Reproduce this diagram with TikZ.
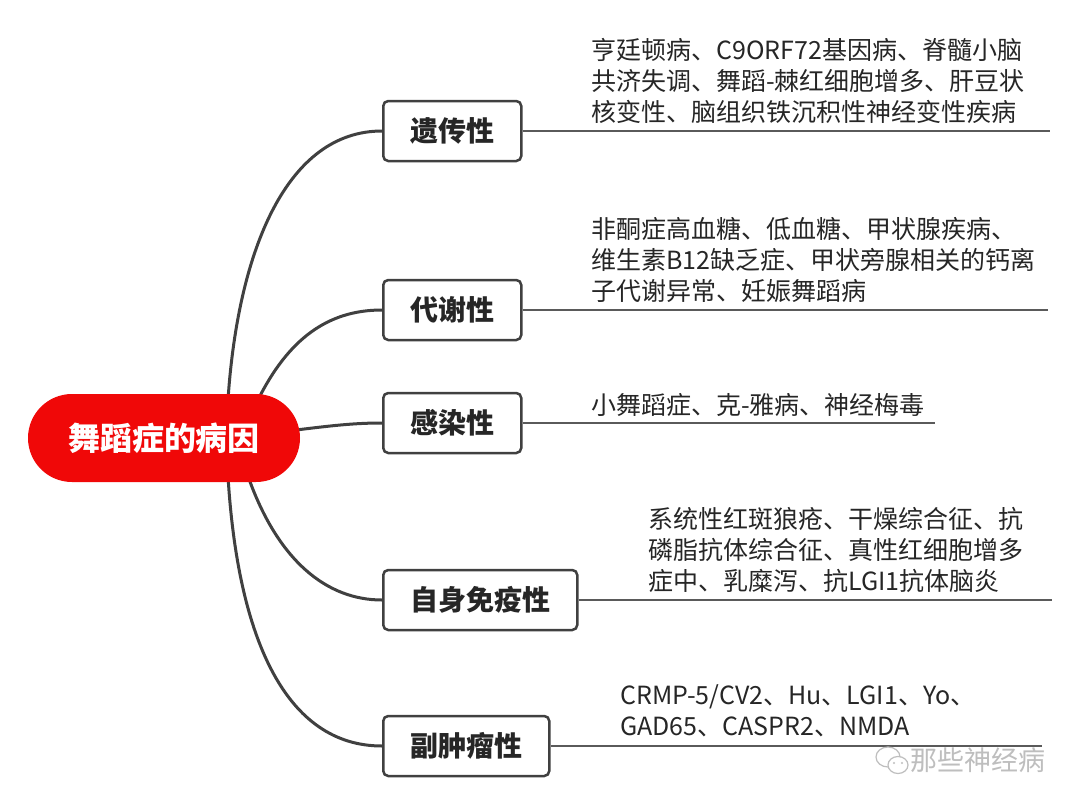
\documentclass[tikz,border=0pt]{standalone}
\usepackage{fontspec}
\newfontfamily\cjk{Noto Sans CJK SC}
\usetikzlibrary{shapes.misc,backgrounds}
\definecolor{rootred}{RGB}{240,8,8}
\definecolor{linegray}{RGB}{64,64,64}
\definecolor{thingray}{RGB}{90,90,90}
\definecolor{txtgray}{RGB}{38,38,38}
\definecolor{wmgray}{RGB}{190,190,190}
\tikzset{
  rootbox/.style={rounded rectangle, fill=rootred, text=white, minimum width=272pt, minimum height=88pt, inner sep=0pt, font=\cjk\bfseries\fontsize{32}{36}\selectfont},
  branchbox/.style={draw=linegray, line width=2.5pt, rounded corners=5pt, fill=white, minimum height=60pt, inner xsep=27pt, inner ysep=0pt, anchor=west, text=txtgray, font=\cjk\bfseries\fontsize{28}{32}\selectfont},
  conn/.style={draw=linegray, line width=3pt},
  underline/.style={draw=thingray, line width=1.3pt},
  desc/.style={anchor=north west, inner sep=0pt, align=left, text=txtgray, font=\cjk\fontsize{25}{31}\selectfont},
  wm/.style={text=wmgray, inner sep=0pt, font=\cjk\fontsize{27}{30}\selectfont}
}
\begin{document}
\begin{tikzpicture}[x=1pt,y=-1pt]
\useasboundingbox (0,0) rectangle (1080,806);

\node[rootbox] (root) at (164,438) {舞蹈症的病因};

\node[branchbox] (b1) at (382,131) {遗传性};
\node[branchbox] (b2) at (382,310) {代谢性};
\node[branchbox] (b3) at (382,423) {感染性};
\node[branchbox] (b4) at (382,600) {自身免疫性};
\node[branchbox] (b5) at (382,746) {副肿瘤性};

% connectors (behind the nodes)
\begin{pgfonlayer}{background}
\fill[white] (0,0) rectangle (1080,806);
\draw[conn] ([xshift=64pt,yshift=-6pt]root.north) .. controls +(10,-150) and +(-95,0) .. (b1.west);
\draw[conn] ([xshift=94pt,yshift=-6pt]root.north) .. controls +(30,-60) and +(-55,0) .. (b2.west);
\draw[conn] ([xshift=-4pt,yshift=8pt]root.east) .. controls +(40,-5) and +(-25,0) .. (b3.west);
\draw[conn] ([xshift=84pt,yshift=6pt]root.south) .. controls +(30,85) and +(-55,0) .. (b4.west);
\draw[conn] ([xshift=64pt,yshift=6pt]root.south) .. controls +(10,165) and +(-95,0) .. (b5.west);
\end{pgfonlayer}

% underlines
\coordinate (e1) at (1050,131);
\coordinate (e2) at (1048,310);
\coordinate (e3) at (935,423);
\coordinate (e4) at (1052,600);
\coordinate (e5) at (1042,746);
\draw[underline] (b1.east) -- (e1);
\draw[underline] (b2.east) -- (e2);
\draw[underline] (b3.east) -- (e3);
\draw[underline] (b4.east) -- (e4);
\draw[underline] (b5.east) -- (e5);

% descriptions
\node[desc] (d1) at (591,38) {亨廷顿病、C9ORF72基因病、脊髓小脑\\共济失调、舞蹈-棘红细胞增多、肝豆状\\核变性、脑组织铁沉积性神经变性疾病};
\node[desc] (d2) at (591,217) {非酮症高血糖、低血糖、甲状腺疾病、\\维生素B12缺乏症、甲状旁腺相关的钙离\\子代谢异常、妊娠舞蹈病};
\node[desc] (d3) at (591,393) {小舞蹈症、克-雅病、神经梅毒};
\node[desc] (d4) at (648,507) {系统性红斑狼疮、干燥综合征、抗\\磷脂抗体综合征、真性红细胞增多\\症中、乳糜泻、抗LGI1抗体脑炎};
\node[desc] (d5) at (620,684) {CRMP-5/CV2、Hu、LGI1、Yo、\\GAD65、CASPR2、NMDA};

% watermark
\node[wm] (wm) at (978,760) {那些神经病};
\draw[wmgray, line width=1.2pt] (888,757) ellipse (12pt and 10pt);
\draw[wmgray, line width=1.2pt, fill=white] (898,765) ellipse (10pt and 8.5pt);
\fill[wmgray] (894,763) circle (1.2pt) (902,763) circle (1.2pt);
\end{tikzpicture}
\end{document}
